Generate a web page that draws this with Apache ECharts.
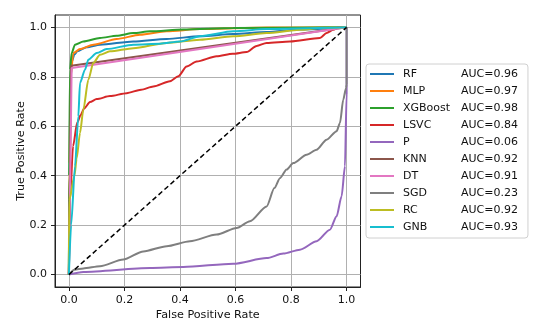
<!DOCTYPE html>
<html>
<head>
<meta charset="utf-8">
<script src="https://cdn.jsdelivr.net/npm/echarts@6/dist/echarts.min.js"></script>
<style>html,body{margin:0;padding:0;background:#fff}#c{width:550px;height:334px}</style>
</head>
<body>
<div id="c"></div>
<script>
const names = ['RF','MLP','XGBoost','LSVC','P','KNN','DT','SGD','RC','GNB'];
const aucs = ['0.96','0.97','0.98','0.84','0.06','0.92','0.91','0.23','0.92','0.93'];
const colors = ['#1f77b4','#ff7f0e','#2ca02c','#d62728','#9467bd','#8c564b','#e377c2','#7f7f7f','#bcbd22','#17becf'];
const tickValues = [0, 0.2, 0.4, 0.6, 0.8, 1.0];

const RF = [[0,0],[0.002,0.4],[0.005,0.75],[0.01,0.86],[0.02,0.89],[0.03,0.903],[0.064,0.92],[0.112,0.93],[0.232,0.943],[0.352,0.953],[0.472,0.964],[0.592,0.973],[0.712,0.981],[0.832,0.991],[1,1]];
const MLP = [[0,0],[0.002,0.45],[0.006,0.8],[0.016,0.896],[0.04,0.912],[0.088,0.93],[0.172,0.953],[0.256,0.97],[0.352,0.984],[0.472,0.993],[0.712,0.999],[1,1]];
const XGB = [[0,0],[0.001,0.4],[0.004,0.829],[0.01,0.896],[0.022,0.93],[0.052,0.943],[0.112,0.957],[0.172,0.966],[0.232,0.977],[0.292,0.984],[0.412,0.991],[0.592,0.997],[1,1]];
const LSVC = [[0,0],[0.004,0.3],[0.015,0.52],[0.03,0.615],[0.042,0.645],[0.055,0.672],[0.076,0.698],[0.1,0.71],[0.148,0.722],[0.208,0.734],[0.26,0.748],[0.304,0.761],[0.364,0.782],[0.394,0.802],[0.424,0.842],[0.46,0.862],[0.532,0.883],[0.59,0.893],[0.64,0.9],[0.676,0.925],[0.712,0.937],[0.796,0.943],[0.904,0.957],[0.928,0.977],[0.952,0.99],[0.97,1],[1,1]];
const P = [[0,0],[0.052,0.011],[0.292,0.027],[0.412,0.031],[0.592,0.044],[0.712,0.067],[0.772,0.085],[0.832,0.101],[0.892,0.135],[0.94,0.182],[0.964,0.236],[0.982,0.317],[0.994,0.438],[1,0.73],[1,1]];
const KNN = [[0,0],[0.008,0.845],[1,1]];
const DT = [[0,0],[0.01,0.836],[1,1]];
const SGD = [[0,0],[0.02,0.02],[0.052,0.025],[0.112,0.034],[0.196,0.061],[0.268,0.094],[0.352,0.115],[0.436,0.135],[0.532,0.162],[0.604,0.189],[0.652,0.216],[0.712,0.276],[0.74,0.35],[0.76,0.39],[0.784,0.425],[0.808,0.451],[0.856,0.485],[0.892,0.505],[0.928,0.546],[0.964,0.58],[0.976,0.613],[0.988,0.708],[0.998,0.755],[1,0.77],[1,1]];
const RC = [[0,0],[0.001,0.3],[0.02,0.4],[0.028,0.47],[0.04,0.573],[0.052,0.667],[0.07,0.788],[0.088,0.856],[0.112,0.889],[0.148,0.903],[0.232,0.916],[0.352,0.937],[0.472,0.95],[0.592,0.964],[0.712,0.977],[0.832,0.99],[0.904,0.997],[1,1]];
const GNB = [[0,0],[0.008,0.2],[0.022,0.438],[0.034,0.64],[0.04,0.775],[0.058,0.829],[0.07,0.869],[0.1,0.896],[0.136,0.912],[0.232,0.93],[0.328,0.934],[0.4,0.943],[0.472,0.964],[0.592,0.984],[0.712,0.993],[1,1]];
const diag = [[0,0],[1,1]];

const curves = [RF, MLP, XGB, LSVC, P, KNN, DT, SGD, RC, GNB];
const straight = ['KNN', 'DT'];

const font = 'DejaVu Sans';
const series = curves.map((d, i) => ({
  name: names[i], type: 'line', data: d, showSymbol: false, symbol: 'none',
  smooth: straight.includes(names[i]) ? false : 0.25, smoothMonotone: 'x',
  lineStyle: { width: 2, color: colors[i] }, itemStyle: { color: colors[i] },
  z: 2 + i, animation: false
}));
series.push({
  name: 'diag', type: 'line', data: diag, showSymbol: false, symbol: 'none',
  lineStyle: { width: 1.5, color: '#000', type: [5, 3] }, z: 20, animation: false
});

const axisCommon = {
  type: 'value', min: -0.05, max: 1.05,
  axisLine: { show: true, onZero: false, lineStyle: { color: '#222', width: 1 } },
  axisTick: { show: true, customValues: tickValues, length: 4, lineStyle: { color: '#222' } },
  axisLabel: { customValues: tickValues, color: '#111', fontFamily: font, fontSize: 11, margin: 8,
    formatter: v => v.toFixed(1) },
  splitLine: { show: true, lineStyle: { color: '#b0b0b0', width: 1 } },
  nameLocation: 'middle', nameMoveOverlap: false,
  nameTextStyle: { color: '#111', fontFamily: font, fontSize: 11.2 }
};

const chart = echarts.init(document.getElementById('c'), null, { renderer: 'canvas' });
chart.setOption({
  animation: false,
  backgroundColor: '#fff',
  grid: { left: 55, top: 15, width: 305.5, height: 272, show: true, borderColor: '#222', borderWidth: 1, containLabel: false },
  xAxis: Object.assign({}, axisCommon, { name: 'False Positive Rate', nameGap: 23 }),
  yAxis: Object.assign({}, axisCommon, { name: 'True Positive Rate', nameGap: 28 }),
  legend: {
    data: names, orient: 'vertical', left: 366, top: 64,
    icon: 'rect', itemWidth: 24, itemHeight: 2, itemGap: 3,
    padding: [3, 10, 4, 4],
    backgroundColor: '#fff', borderColor: '#d0d0d0', borderWidth: 1, borderRadius: 3,
    formatter: n => '{n|' + n + '}{a|AUC=' + aucs[names.indexOf(n)] + '}',
    textStyle: {
      fontFamily: font, fontSize: 11, color: '#111', lineHeight: 14,
      rich: {
        n: { width: 58, padding: [0, 0, 0, 4], fontFamily: font, fontSize: 11, color: '#111' },
        a: { fontFamily: font, fontSize: 11, color: '#111' }
      }
    }
  },
  series: series
});
</script>
</body>
</html>
